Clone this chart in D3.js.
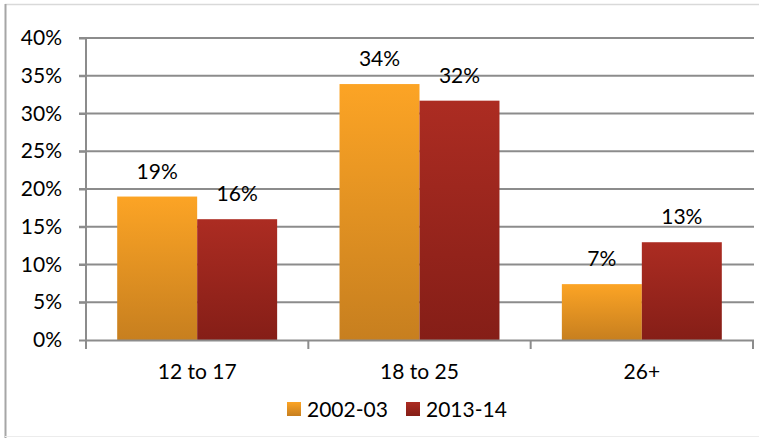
<!DOCTYPE html>
<html>
<head>
<meta charset="utf-8">
<script src="https://cdn.jsdelivr.net/npm/d3@7"></script>
<style>
  body { margin: 0; background: #fff; }
  svg { display: block; font-family: Lato, "Open Sans", sans-serif; }
</style>
</head>
<body>
<svg id="chart" width="759" height="438"></svg>
<script>
// chart data
var categories = ["12 to 17", "18 to 25", "26+"];
var seriesNames = ["2002-03", "2013-14"];
var values2002 = [19.0, 33.9, 7.4];
var values2013 = [16.0, 31.7, 12.95];
var labels2002 = ["19%", "34%", "7%"];
var labels2013 = ["16%", "32%", "13%"];
var yTicks = [0, 5, 10, 15, 20, 25, 30, 35, 40];

var svg = d3.select("#chart");
var plotLeft = 86, plotRight = 753, plotTop = 38, plotBottom = 340;
var fontSize = 21;

var x = d3.scaleBand().domain(categories).range([plotLeft, plotRight]).paddingInner(0).paddingOuter(0);
var xs = d3.scaleBand().domain(seriesNames).range([0, x.bandwidth()]).paddingOuter(0.39).paddingInner(0);
var y = d3.scaleLinear().domain([0, 40]).range([plotBottom, plotTop]);

// gradients for bars
var defs = svg.append("defs");
var grads = [["g0", "#fca425", "#c77f1f"], ["g1", "#ac2c22", "#851e17"]];
grads.forEach(function (g) {
  var lg = defs.append("linearGradient").attr("id", g[0])
    .attr("x1", 0).attr("y1", 0).attr("x2", 0).attr("y2", 1);
  lg.append("stop").attr("offset", "0%").attr("stop-color", g[1]);
  lg.append("stop").attr("offset", "100%").attr("stop-color", g[2]);
});

// outer frame
svg.append("line").attr("x1", 5).attr("x2", 759).attr("y1", 4.5).attr("y2", 4.5)
  .attr("stroke", "#d9d9d9").attr("stroke-width", 1.5);
svg.append("line").attr("x1", 5.5).attr("x2", 5.5).attr("y1", 4).attr("y2", 438)
  .attr("stroke", "#a6a6a6").attr("stroke-width", 2);
svg.append("line").attr("x1", 5).attr("x2", 759).attr("y1", 436.5).attr("y2", 436.5)
  .attr("stroke", "#ececec").attr("stroke-width", 1);

// gridlines
svg.append("g").selectAll("line").data(yTicks.slice(1)).join("line")
  .attr("x1", plotLeft - 7).attr("x2", plotRight + 1)
  .attr("y1", function (d) { return y(d); }).attr("y2", function (d) { return y(d); })
  .attr("stroke", "#8c8c8c").attr("stroke-width", 2);

// y axis
var yAxis = svg.append("g").attr("transform", "translate(" + plotLeft + ",0)")
  .call(d3.axisLeft(y).tickValues(yTicks).tickSize(7).tickPadding(17)
    .tickFormat(function (d) { return d + "%"; }));
yAxis.select(".domain").attr("stroke", "#8c8c8c").attr("stroke-width", 2)
  .attr("d", "M0," + plotTop + "V" + (plotBottom + 9));
yAxis.selectAll(".tick line").attr("stroke", "#8c8c8c").attr("stroke-width", 2);
yAxis.selectAll(".tick text").attr("font-size", fontSize).attr("fill", "#000")
  .attr("font-family", "Lato, 'Open Sans', sans-serif");

// bars
var bars = svg.append("g");
var series = [values2002, values2013];
series.forEach(function (vals, si) {
  bars.selectAll(".s" + si).data(categories).join("rect")
    .attr("class", "s" + si)
    .attr("x", function (c) { return x(c) + xs(seriesNames[si]); })
    .attr("width", xs.bandwidth())
    .attr("y", function (c, i) { return y(vals[i]); })
    .attr("height", function (c, i) { return plotBottom - y(vals[i]); })
    .attr("fill", "url(#g" + si + ")");
});

// x axis
var xAxis = svg.append("g").attr("transform", "translate(0," + plotBottom + ")");
xAxis.append("line").attr("x1", plotLeft).attr("x2", plotRight + 1).attr("y1", 0.5).attr("y2", 0.5)
  .attr("stroke", "#8c8c8c").attr("stroke-width", 2);
xAxis.selectAll(".tk").data(categories.concat(["end"])).join("line")
  .attr("class", "tk")
  .attr("x1", function (c, i) { return plotLeft + i * x.step(); })
  .attr("x2", function (c, i) { return plotLeft + i * x.step(); })
  .attr("y1", 0).attr("y2", 9)
  .attr("stroke", "#8c8c8c").attr("stroke-width", 2);
xAxis.selectAll("text").data(categories).join("text")
  .attr("x", function (c) { return x(c) + x.bandwidth() / 2; })
  .attr("y", 39).attr("text-anchor", "middle").attr("font-size", fontSize)
  .text(function (c) { return c; });

// data labels
var labelSets = [labels2002, labels2013];
series.forEach(function (vals, si) {
  svg.append("g").selectAll("text").data(categories).join("text")
    .attr("x", function (c) { return x(c) + xs(seriesNames[si]) + xs.bandwidth() / 2; })
    .attr("y", function (c, i) { return y(vals[i]) - 18; })
    .attr("text-anchor", "middle").attr("font-size", fontSize)
    .text(function (c, i) { return labelSets[si][i]; });
});

// legend
var legendX = [287, 406];
var legend = svg.append("g");
seriesNames.forEach(function (name, si) {
  legend.append("rect").attr("x", legendX[si]).attr("y", 402).attr("width", 14).attr("height", 14)
    .attr("fill", "url(#g" + si + ")");
  legend.append("text").attr("x", legendX[si] + 20).attr("y", 417).attr("font-size", fontSize).text(name);
});
</script>
</body>
</html>
